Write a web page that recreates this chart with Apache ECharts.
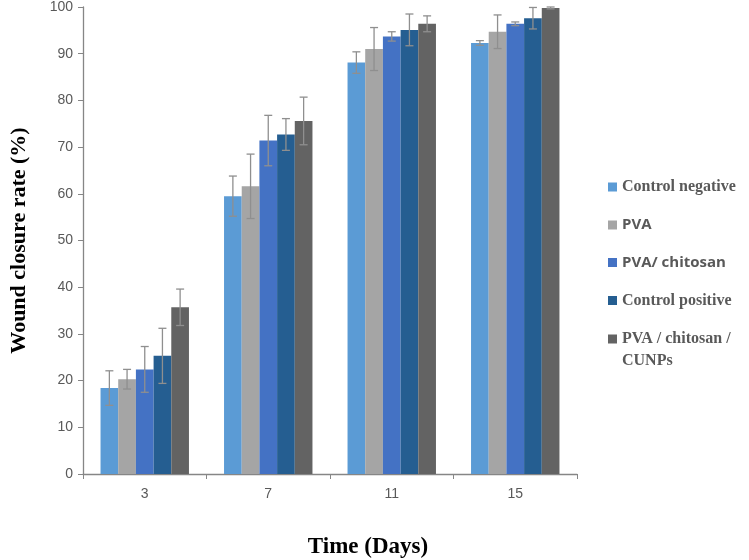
<!DOCTYPE html>
<html>
<head>
<meta charset="utf-8">
<script src="https://cdn.jsdelivr.net/npm/echarts@6/dist/echarts.min.js"></script>
<style>html,body{margin:0;padding:0;background:#fff;}#c{width:749px;height:560px;}</style>
</head>
<body>
<div id="c"></div>
<script>
var categories = ['3', '7', '11', '15'];
var seriesNames = ['Control negative', 'PVA', 'PVA/ chitosan', 'Control positive', 'PVA / chitosan / CUNPs'];
var controlNegative = [18.4, 59.5, 88.1, 92.3];
var pva = [20.3, 61.6, 91.0, 94.7];
var pvaChitosan = [22.4, 71.4, 93.7, 96.4];
var controlPositive = [25.3, 72.7, 95.1, 97.6];
var pvaChitosanCunps = [35.7, 75.6, 96.4, 99.8];
var errControlNegative = [3.7, 4.3, 2.3, 0.5];
var errPva = [2.1, 6.9, 4.6, 3.6];
var errPvaChitosan = [4.9, 5.4, 1.0, 0.4];
var errControlPositive = [5.9, 3.4, 3.4, 2.3];
var errPvaChitosanCunps = [3.9, 5.1, 1.7, 0.2];
var yTicks = [0, 10, 20, 30, 40, 50, 60, 70, 80, 90, 100];

var values = [controlNegative, pva, pvaChitosan, controlPositive, pvaChitosanCunps];
var errors = [errControlNegative, errPva, errPvaChitosan, errControlPositive, errPvaChitosanCunps];
var colors = ['#5B9BD5', '#A5A5A5', '#4472C4', '#255E91', '#636363'];
var catGap = 0.284;

var series = [];
values.forEach(function (v, i) {
  series.push({
    name: seriesNames[i], type: 'bar', data: v, barGap: '0%', barCategoryGap: (catGap * 100) + '%',
    itemStyle: { color: colors[i] }
  });
});
values.forEach(function (v, i) {
  var data = v.map(function (val, k) { return [k, val, errors[i][k]]; });
  series.push({
    type: 'custom', name: seriesNames[i] + ' err', data: data, z: 10, silent: true,
    renderItem: function (params, api) {
      var k = api.value(0), val = api.value(1), e = api.value(2);
      var catW = api.size([1, 0])[0];
      var bw = catW * (1 - catGap) / 5;
      var c = api.coord([k, val]);
      var x = c[0] + (i - 2) * bw;
      var top = api.coord([k, val + e])[1];
      var bot = api.coord([k, val - e])[1];
      var cap = 4;
      var st = { stroke: '#8f8f8f', lineWidth: 1.3 };
      return { type: 'group', children: [
        { type: 'line', shape: { x1: x, y1: top, x2: x, y2: bot }, style: st },
        { type: 'line', shape: { x1: x - cap, y1: top, x2: x + cap, y2: top }, style: st },
        { type: 'line', shape: { x1: x - cap, y1: bot, x2: x + cap, y2: bot }, style: st }
      ]};
    }
  });
});

var serifNames = { 'Control negative': 1, 'Control positive': 1 };
var chart = echarts.init(document.getElementById('c'));
chart.setOption({
  animation: false,
  backgroundColor: '#fff',
  grid: { left: 77, right: 172, top: 6, bottom: 86 },
  title: {
    text: 'Time (Days)', left: 363, top: 531, textAlign: 'center',
    textStyle: { fontFamily: 'Liberation Serif', fontWeight: 'bold', fontSize: 23, color: '#000' }
  },
  legend: {
    orient: 'vertical', left: 603, top: 174, itemWidth: 9, itemHeight: 9, itemGap: 22.5,
    data: seriesNames, icon: 'rect',
    formatter: function (name) {
      if (name === 'PVA / chitosan / CUNPs') return '{serif|PVA / chitosan /}';
      return serifNames[name] ? '{serif|' + name + '}' : '{sans|' + name + '}';
    },
    textStyle: {
      rich: {
        serif: { fontFamily: 'Liberation Serif', fontWeight: 'bold', fontSize: 16, color: '#595959' },
        sans: { fontFamily: 'Open Sans', fontWeight: 'bold', fontSize: 15, color: '#595959' }
      }
    }
  },
  graphic: [{
    type: 'text', left: 622, top: 353,
    style: { text: 'CUNPs', font: 'bold 16px "Liberation Serif"', fill: '#595959' }
  }],
  xAxis: {
    type: 'category', data: categories,
    axisLine: { lineStyle: { color: '#868686', width: 1.3 } },
    axisTick: { show: true, alignWithLabel: false, length: 5, lineStyle: { color: '#868686' } },
    axisLabel: { color: '#595959', fontSize: 14, margin: 13, fontFamily: 'Liberation Sans' }
  },
  yAxis: {
    type: 'value', min: 0, max: 100, interval: 10,
    name: 'Wound closure rate (%)', nameLocation: 'middle', nameGap: 53,
    nameTextStyle: { fontFamily: 'Liberation Serif', fontWeight: 'bold', fontSize: 22, color: '#000' },
    splitLine: { show: false },
    axisLine: { show: true, lineStyle: { color: '#868686', width: 1.3 } },
    axisTick: { show: true, length: 5, lineStyle: { color: '#868686' } },
    axisLabel: { color: '#595959', fontSize: 14, margin: 10, fontFamily: 'Liberation Sans',
      formatter: function (v) { return yTicks.indexOf(v) >= 0 ? String(v) : ''; } }
  },
  series: series
});
</script>
</body>
</html>
